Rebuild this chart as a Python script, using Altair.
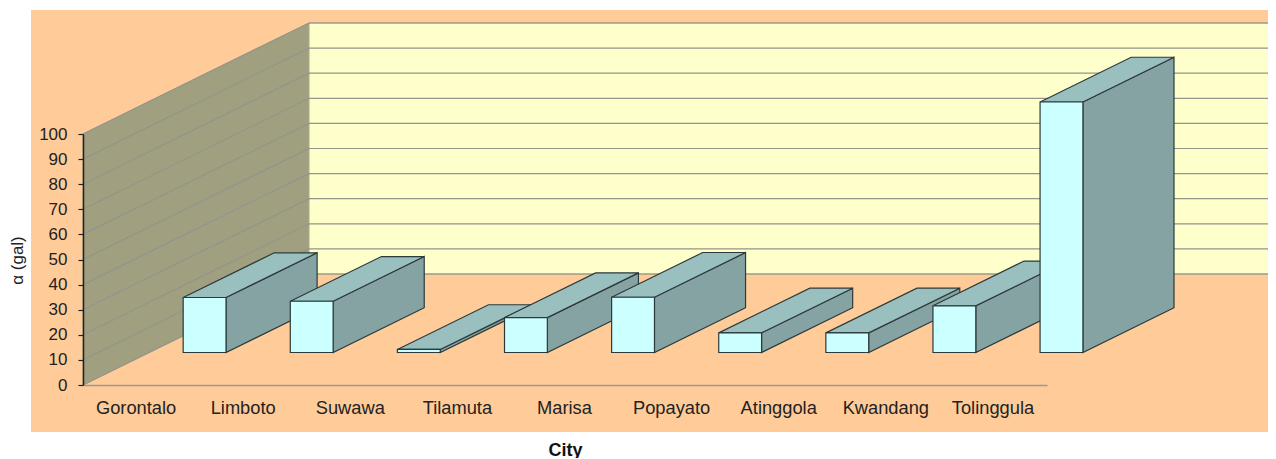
import altair as alt
import pandas as pd

cities = ["Gorontalo", "Limboto", "Suwawa", "Tilamuta", "Marisa",
          "Popayato", "Atinggola", "Kwandang", "Tolinggula"]
values = [21.9, 20.4, 1.2, 13.9, 22.0, 7.8, 7.8, 18.6, 99.8]
y_ticks = list(range(0, 101, 10))

# oblique projection of the 3-D chart box, in data units
DEPTH_X = 226 / 107.1   # categories of shift for full depth
DEPTH_Y = 111 / 2.51    # gal of shift for full depth
BAR_START = 0.317       # bar position within its category slot
BAR_WIDTH = 0.40
BAR_D0 = 0.293
BAR_D1 = 0.696
N = len(cities)

BG = "#FFCC99"
WALL = "#FFFFCC"
SIDE = "#A0A080"
FRONT = "#CCFFFF"
TOP = "#99BFBF"
RIGHT = "#85A3A3"


def proj(c, v, d):
    return c + d * DEPTH_X, v + d * DEPTH_Y


polys = []
def add_poly(pid, fill, pts):
    for s, (c, v, d) in enumerate(pts + pts[:2]):
        x, y = proj(c, v, d)
        polys.append({"poly": pid, "fill": fill, "seq": s, "x": x, "y": y})


for i, val in enumerate(values):
    a, b = i + BAR_START, i + BAR_START + BAR_WIDTH
    add_poly(f"{i:02d}a", RIGHT, [(b, 0, BAR_D0), (b, 0, BAR_D1), (b, val, BAR_D1), (b, val, BAR_D0)])
    add_poly(f"{i:02d}b", TOP, [(a, val, BAR_D0), (b, val, BAR_D0), (b, val, BAR_D1), (a, val, BAR_D1)])
    add_poly(f"{i:02d}c", FRONT, [(a, 0, BAR_D0), (b, 0, BAR_D0), (b, val, BAR_D0), (a, val, BAR_D0)])

walls = []
def add_wall(pid, fill, pts):
    for s, (c, v, d) in enumerate(pts + pts[:1]):
        x, y = proj(c, v, d)
        walls.append({"poly": pid, "fill": fill, "seq": s, "x": x, "y": y})


add_wall("side", SIDE, [(0, 0, 0), (0, 0, 1), (0, 100, 1), (0, 100, 0)])
add_wall("back", WALL, [(0, 0, 1), (N, 0, 1), (N, 100, 1), (0, 100, 1)])

grid = []
for t in y_ticks:
    for s, (c, d) in enumerate([(0, 0), (0, 1), (N, 1)]):
        x, y = proj(c, t, d)
        grid.append({"tick": t, "seq": s, "x": x, "y": y})

X_SCALE = alt.Scale(domain=[0, N], nice=False, zero=False)
Y_SCALE = alt.Scale(domain=[0, 100], nice=False, zero=False)

names = "[" + ",".join(f"'{c}'" for c in cities) + "]"
font = "Liberation Sans"

panel = pd.DataFrame([{"x": -52 / 107.1, "x2": 1191 / 107.1, "y": -18.7, "y2": 149.4}])

panel_layer = alt.Chart(panel).mark_rect(color=BG, stroke=None).encode(
    x=alt.X("x:Q", scale=X_SCALE, axis=alt.Axis(
        values=[i + 0.5 for i in range(N)], tickCount=N,
        labelExpr=f"{names}[floor(datum.value)]",
        title="City", titleFont=font, titleFontSize=18, titleFontWeight="bold", titleColor="#111",
        titleX=482, titleY=65, titleBaseline="middle", titleAlign="center", titleAnchor="middle",
        labelFont=font, labelFontSize=18.3, labelColor="#222", labelPadding=14, labelAngle=0, labelOffset=-1,
        ticks=False, grid=False, domainColor="#999999", domainWidth=1.5, zindex=1,
        labelOverlap=False, labelFlush=False)),
    x2="x2:Q",
    y=alt.Y("y:Q", scale=Y_SCALE, axis=alt.Axis(
        values=y_ticks, tickCount=len(y_ticks),
        title="α (gal)", titleFont=font, titleFontSize=17, titleFontWeight="normal", titleColor="#222",
        titleX=-66, titleY=126, titleAngle=270, titleBaseline="middle", titleAlign="center", titleAnchor="middle",
        labelFont=font, labelFontSize=17, labelColor="#222", labelPadding=11, labelOverlap=False,
        tickSize=5, tickColor="#222", tickWidth=1.2, grid=False,
        domainColor="#222", domainWidth=1.5, zindex=1)),
    y2="y2:Q",
)

wall_layer = alt.Chart(pd.DataFrame(walls)).mark_line(stroke="#A8A88C", strokeWidth=1).encode(
    x=alt.X("x:Q", scale=X_SCALE),
    y=alt.Y("y:Q", scale=Y_SCALE),
    detail="poly:N",
    fill=alt.Fill("fill:N", scale=None),
    order="seq:Q",
)

grid_layer = alt.Chart(pd.DataFrame(grid)).mark_line(stroke="#94948A", strokeWidth=1.2).encode(
    x=alt.X("x:Q", scale=X_SCALE),
    y=alt.Y("y:Q", scale=Y_SCALE),
    detail="tick:N",
    order="seq:Q",
)

bar_layer = alt.Chart(pd.DataFrame(polys)).mark_line(stroke="#2E3A3A", strokeWidth=1.2, strokeJoin="miter").encode(
    x=alt.X("x:Q", scale=X_SCALE),
    y=alt.Y("y:Q", scale=Y_SCALE),
    detail="poly:N",
    fill=alt.Fill("fill:N", scale=None),
    order="seq:Q",
)

chart = alt.layer(panel_layer, wall_layer, grid_layer, bar_layer).properties(
    width=964, height=251,
    padding={"left": 75, "top": 126, "right": 221, "bottom": 73},
    autosize=alt.AutoSizeParams(type="none"),
    background="white",
).configure_view(stroke=None)

chart.save("out.html", embed_options={"renderer": "svg", "actions": False})
